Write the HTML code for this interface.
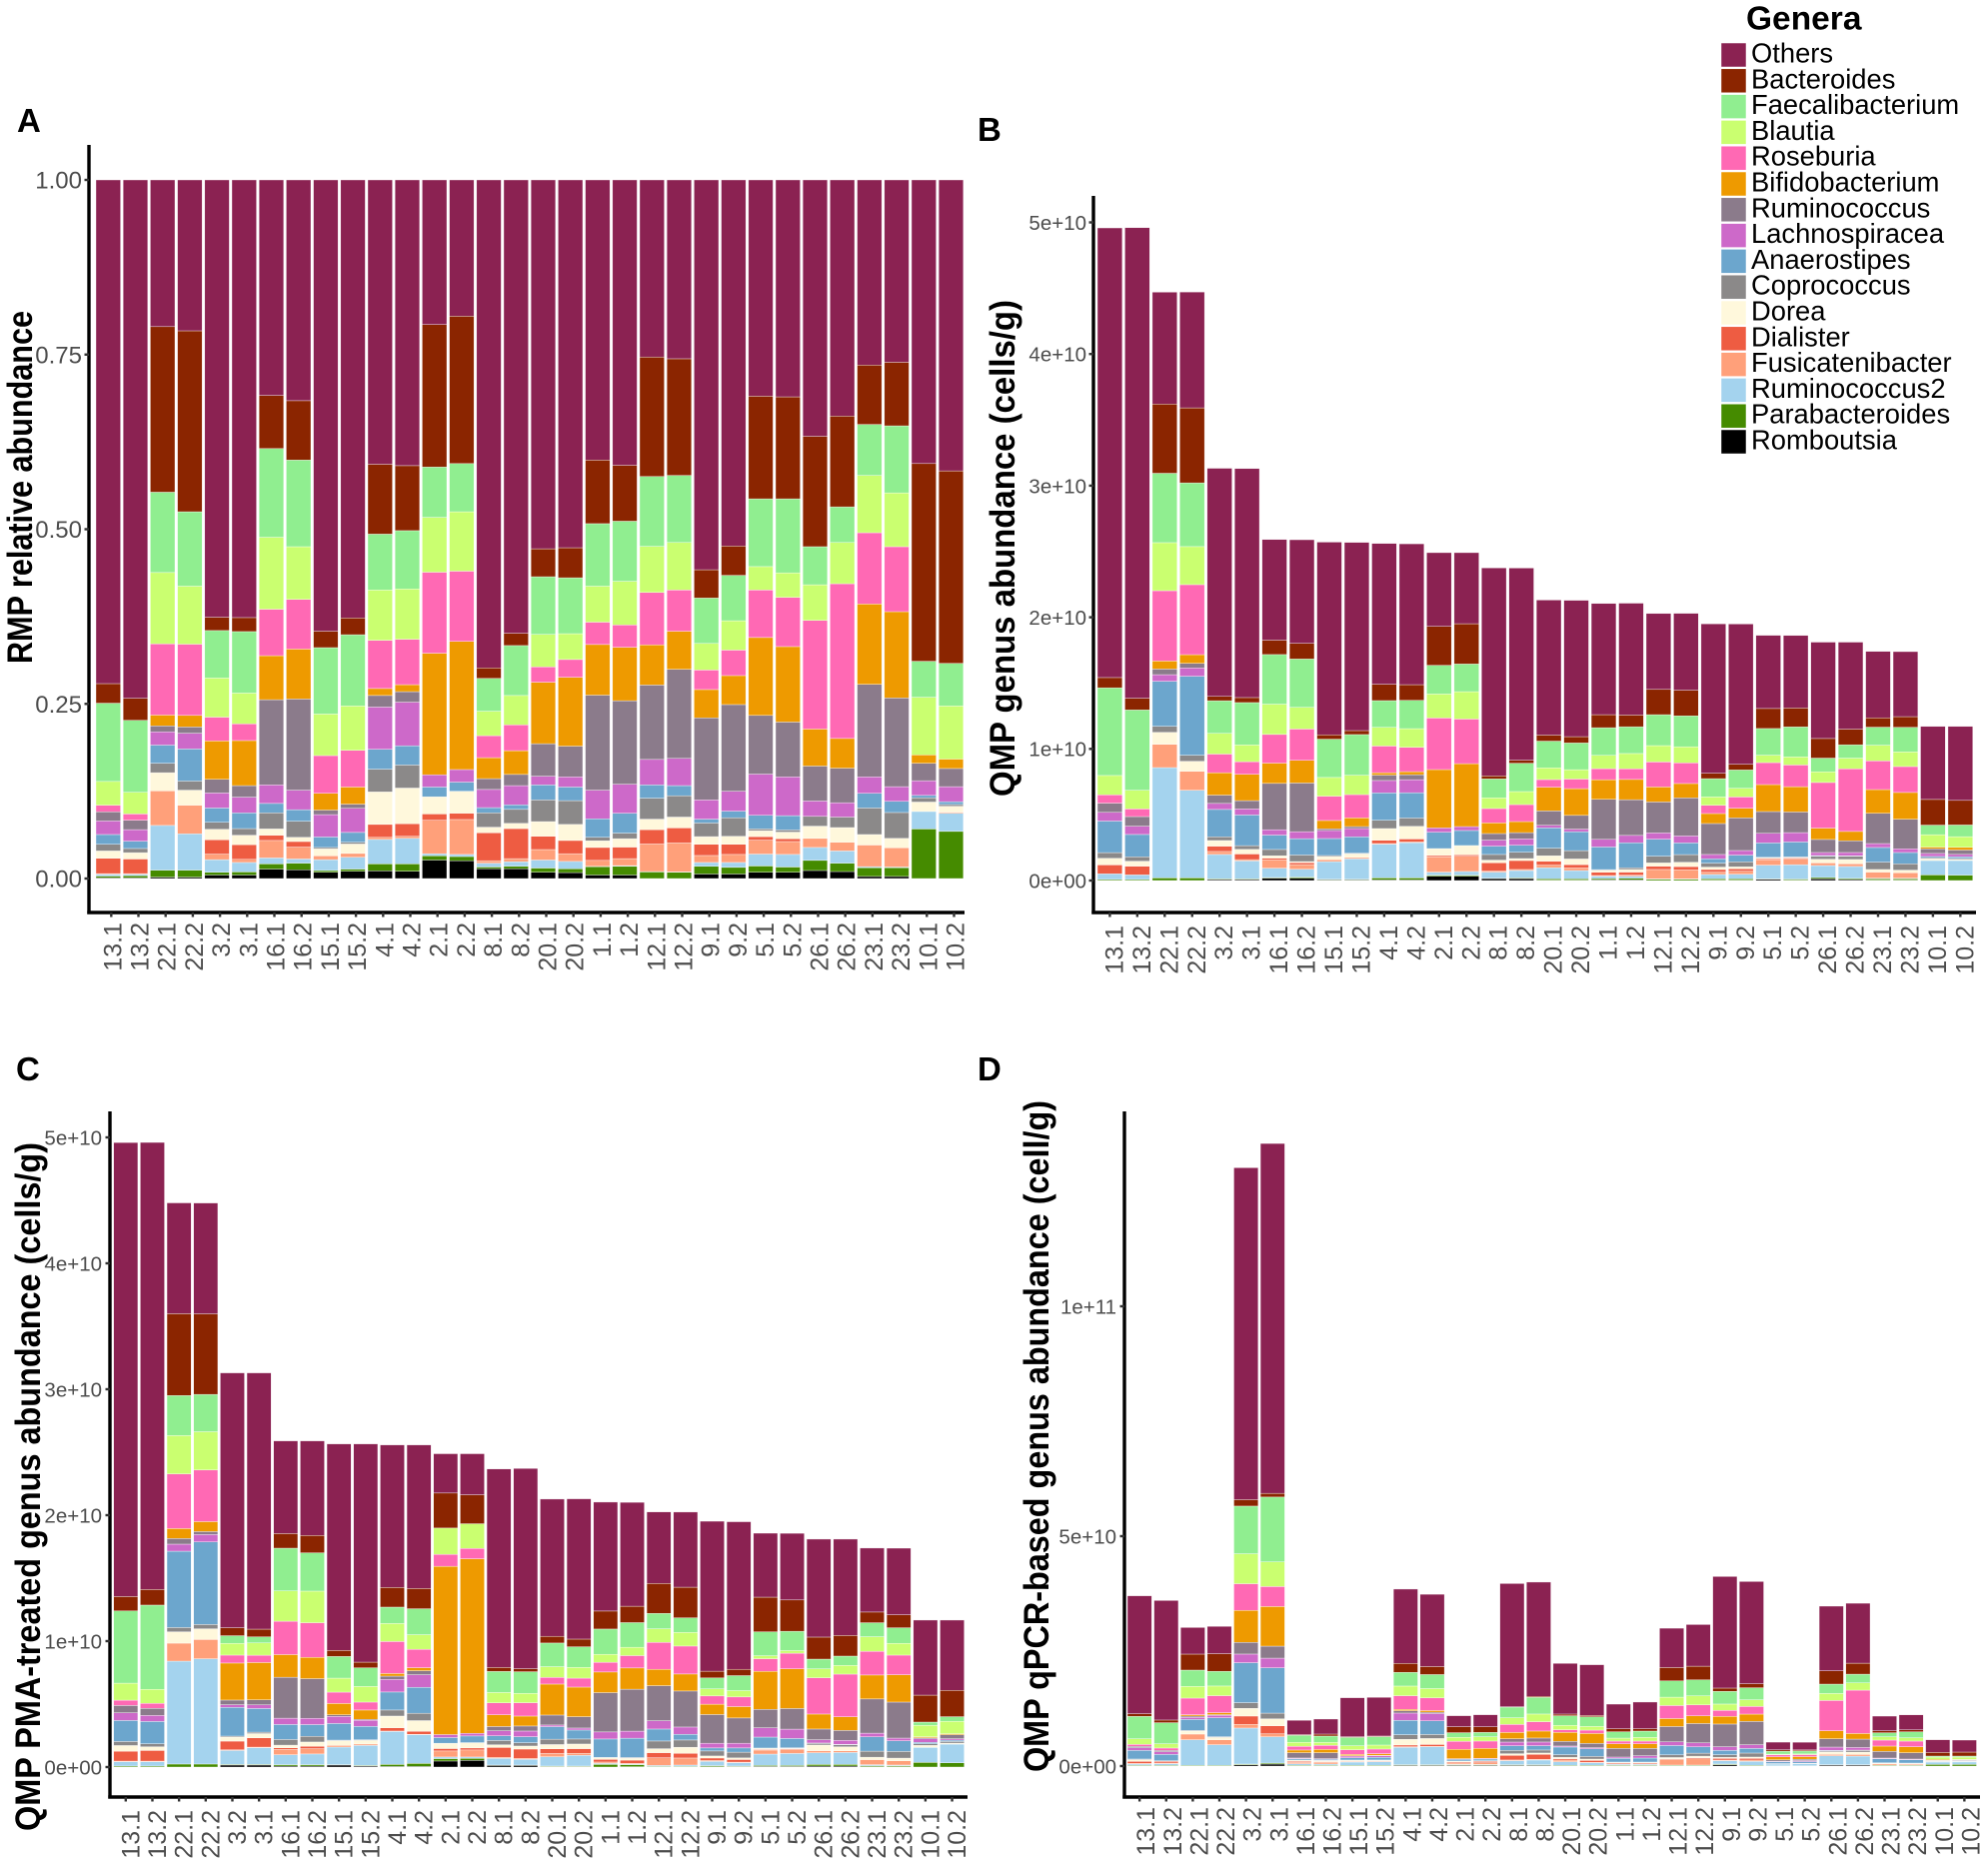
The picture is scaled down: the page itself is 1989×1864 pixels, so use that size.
<!DOCTYPE html>
<html lang="en">
<head>
<meta charset="utf-8">
<title>Genus abundance stacked bar charts</title>
<style>
html,body{margin:0;padding:0;background:#fff}
svg{display:block}
text{font-family:"Liberation Sans",Arial,sans-serif}
</style>
</head>
<body>
<svg id="figure" xmlns="http://www.w3.org/2000/svg" width="1989" height="1864" viewBox="0 0 1989 1864"></svg>
<script>
const samples = ["13.1","13.2","22.1","22.2","3.2","3.1","16.1","16.2","15.1","15.2","4.1","4.2","2.1","2.2","8.1","8.2","20.1","20.2","1.1","1.2","12.1","12.2","9.1","9.2","5.1","5.2","26.1","26.2","23.1","23.2","10.1","10.2"];
/* stack order, bottom to top */
const genera = ["Romboutsia","Parabacteroides","Ruminococcus2","Fusicatenibacter","Dialister","Dorea","Coprococcus","Anaerostipes","Lachnospiracea","Ruminococcus","Bifidobacterium","Roseburia","Blautia","Faecalibacterium","Bacteroides","Others"];

/* Panel A: relative abundance, percent */
const A_13_1=[.1,.25,.25,.1,2.2,1.05,.95,1.4,1.95,1.3,0,.95,3.4,11.2,2.8,72.1];
const A_13_2=[.1,.3,.2,.1,2.1,.9,.6,1.05,1.65,1.35,0,.9,3.1,10.3,3.15,74.2];
const A_22_1=[.2,1,6.4,4.95,0,2.6,1.35,2.6,1.9,.85,1.55,10.2,10.2,11.5,23.7,21];
const A_22_2=[.2,1,5.2,4.1,0,2.15,1.3,4.6,2.25,.9,1.65,10.2,8.3,10.65,25.9,21.6];
const A_3_2=[.5,.4,1.8,.8,2.05,1.5,1,2.05,2.15,1.95,5.5,3.4,5.6,6.8,1.9,62.6];
const A_3_1=[.5,.45,1.35,.45,2.1,1.35,.95,2.25,2.25,1.65,6.45,2.4,4.4,8.8,2,62.65];
const A_16_1=[1.35,.75,.85,2.5,.75,.9,2.3,1.35,2.65,12.2,6.3,6.65,10.3,12.7,7.6,30.85];
const A_16_2=[1.25,.95,.6,1.7,.8,.6,2.3,1.65,2.8,13.05,7.15,7.1,7.55,12.4,8.5,31.6];
const A_15_1=[.9,.25,1.55,.55,0,1,.2,1.5,3.2,.65,2.4,5.4,5.95,9.5,2.35,64.6];
const A_15_2=[1.05,.3,1.7,.55,0,1.35,.25,1.4,3.45,.6,2.45,5.25,6.35,10.2,2.4,62.7];
const A_4_1=[1.1,1,3.5,.3,1.85,4.65,3.25,2.85,6.05,1.65,1,6.9,7.2,8,10,40.7];
const A_4_2=[1.05,1.05,3.65,.3,1.8,5.1,3.3,2.75,6.25,1.5,1,6.5,7.2,8.35,9.3,40.9];
const A_2_1=[2.65,.6,.3,4.8,.9,2.45,0,1.4,1.75,0,17.4,11.6,7.85,7.2,20.4,20.7];
const A_2_2=[2.55,.6,.3,5,.9,3.15,0,1.3,1.8,0,18.35,10.05,8.5,6.9,21.1,19.5];
const A_8_1=[1.4,.25,.55,.35,4,.8,2.05,.75,2.6,1.55,3,3.15,3.5,4.7,1.5,69.85];
const A_8_2=[1.4,.35,.65,.45,4.3,.75,2,.65,2.75,1.6,3.4,3.7,4.2,7.15,1.75,64.9];
const A_20_1=[.9,.6,1.15,1.5,1.9,2.1,3.1,2.15,1.25,4.65,8.8,2.2,4.65,8.25,4,52.8];
const A_20_2=[.85,.55,1.05,1.1,1.9,2.3,3.4,1.95,1.45,4.4,9.85,2.55,3.7,8,4.3,52.65];
const A_1_1=[.5,1.2,.05,.85,1.85,.95,.5,2.65,4.1,13.6,7.25,3.2,5.15,8.95,9.1,40.1];
const A_1_2=[.5,1.25,.1,1,1.65,1.2,.8,2.85,4.15,11.95,7.65,3.2,6.25,8.6,8,40.85];
const A_12_1=[0,.95,.05,3.95,2.05,1.5,3,1.9,3.65,10.65,5.75,7.5,6.6,10,17.1,25.35];
const A_12_2=[0,.9,.05,4.15,2.15,1.55,3.05,1.45,3.9,12.75,5.45,5.9,6.8,9.6,16.7,25.6];
const A_9_1=[.65,1.1,.55,1,1.6,1.1,1.95,.55,2.75,11.75,4.05,2.8,3.8,6.5,4.05,55.8];
const A_9_2=[.65,.95,.7,1.15,1.45,1.15,2.65,.95,2.85,12.4,4.15,3.65,4.2,6.5,4.2,52.4];
const A_5_1=[.9,.9,1.7,2,.5,.85,.25,1.95,5.9,8.4,11.15,6.8,3.35,9.7,14.7,30.95];
const A_5_2=[.9,.75,1.8,1.85,.4,.95,.3,2.05,5.55,7.85,10.8,7.05,3.5,10.6,14.6,31.05];
const A_26_1=[1.15,1.45,1.85,1.3,0,1.75,1.4,0,2.2,5,5.3,15.55,5.1,5.45,15.8,36.7];
const A_26_2=[1,1.2,1.75,1.25,0,2.1,1.5,0,2.05,4.95,4.25,22.15,5.9,5.1,13,33.8];
const A_23_1=[.3,1.25,.15,3.1,0,1.5,3.8,2.1,2.35,13.25,11.5,10.2,8.2,7.3,8.5,26.5];
const A_23_2=[.3,1.25,.1,2.75,0,1.35,3.7,1.6,2.1,12.7,12.35,9.3,7.7,9.6,9.1,26.1];
const A_10_1=[0,7.1,2.5,0,0,1.35,.6,.35,2.1,2.5,1.2,0,8.25,5.15,28.3,40.6];
const A_10_2=[0,6.75,2.6,.15,0,.85,.25,.4,2.15,2.6,1.35,0,7.6,6.1,27.55,41.65];

/* Panel B: QMP, 1e9 cells/g */
const B_13_1=[0,.08,.43,0,.68,.5,.43,2.4,.66,.7,0,.63,1.47,6.66,.78,34.16];
const B_13_2=[0,.08,.35,0,.66,.38,.33,1.7,.63,.73,0,.58,1.42,6.1,.89,35.75];
const B_22_1=[0,.2,8.38,1.77,0,.91,.46,3.42,.5,.43,.61,5.34,3.65,5.27,5.26,8.5];
const B_22_2=[0,.2,6.66,1.44,0,.76,.46,6,.63,.35,.66,5.32,2.89,4.84,5.7,8.8];
const B_3_2=[.08,.05,1.85,.23,.4,.43,.28,2.08,.46,.63,1.7,1.42,1.57,2.48,.33,17.33];
const B_3_1=[.08,.05,1.36,.1,.43,.35,.28,2.33,.46,.63,2,.96,1.27,3.22,.38,17.4];
const B_16_1=[.18,.05,.71,.63,.13,.18,.48,1.09,.41,3.52,1.54,2.18,2.3,3.77,1.09,7.65];
const B_16_2=[.18,.08,.6,.35,.15,.08,.5,1.24,.53,3.7,1.72,2.38,1.65,3.67,1.19,7.87];
const B_15_1=[.05,.05,1.34,.15,0,.23,.08,1.29,.61,.13,.63,1.85,1.42,2.91,.33,14.64];
const B_15_2=[.05,.05,1.55,.1,0,.28,.05,1.24,.63,.15,.66,1.77,1.47,3.09,.3,14.3];
const B_4_1=[.05,.15,2.56,.05,.25,.89,.63,2.08,.94,.41,.18,2.03,1.42,2.03,1.24,10.7];
const B_4_2=[.05,.15,2.68,.05,.23,.96,.63,1.92,.99,.38,.23,1.85,1.42,2.15,1.19,10.7];
const B_2_1=[.33,.08,.23,1.16,.1,.53,0,1.24,.33,0,4.43,3.92,1.82,2.18,2.96,5.6];
const B_2_2=[.33,.08,.28,1.16,.1,.71,0,1.14,.3,0,4.78,3.39,2.08,2.1,3.06,5.4];
const B_8_1=[.15,.03,.46,.08,.63,.2,.43,.63,.46,.5,.81,1.09,.81,1.44,.23,15.8];
const B_8_2=[.15,.05,.56,.08,.68,.15,.48,.53,.48,.48,.84,1.29,.99,2.15,.23,14.6];
const B_20_1=[.03,.1,.84,.2,.3,.41,.58,1.54,.2,1.09,1.8,.58,.89,2.03,.46,10.26];
const B_20_2=[.03,.1,.63,.2,.25,.43,.63,1.44,.2,1.04,2.03,.73,.71,2.03,.48,10.36];
const B_1_1=[.05,.1,.18,.05,.25,.15,.05,1.72,.58,3.04,1.49,.84,1.01,2.1,.99,8.45];
const B_1_2=[.05,.13,.15,.08,.23,.2,.13,1.9,.56,2.71,1.54,.81,1.16,2.03,.89,8.5];
const B_12_1=[0,.1,.03,.71,.25,.25,.51,1.29,.48,2.35,1.14,1.9,1.24,2.35,1.92,5.77];
const B_12_2=[0,.1,.03,.68,.25,.33,.58,.89,.53,2.89,1.09,1.57,1.22,2.35,1.95,5.84];
const B_9_1=[.03,.1,.33,.18,.2,.18,.3,.33,.33,2.35,.76,.63,.63,1.39,.41,11.35];
const B_9_2=[.03,.1,.35,.23,.18,.15,.38,.51,.35,2.48,.73,.86,.66,1.39,.43,10.66];
const B_5_1=[.1,.03,1.04,.41,.08,.08,.03,1.09,.73,1.65,2.05,1.67,.56,2.03,1.52,5.56];
const B_5_2=[.03,.08,1.09,.43,.08,.05,.03,1.14,.71,1.57,1.92,1.65,.61,2.28,1.44,5.51];
const B_26_1=[.13,.1,.91,.2,0,.28,.23,.05,.23,.99,.86,3.47,.81,1.04,1.49,7.32];
const B_26_2=[.08,.08,.91,.2,0,.33,.25,.03,.25,.89,.71,4.76,.81,1.01,1.19,6.61];
const B_23_1=[.03,.1,.05,.46,0,.2,.56,1.11,.3,2.3,1.8,2.18,1.19,1.37,.71,5.05];
const B_23_2=[.03,.1,.05,.41,0,.2,.48,.86,.28,2.25,2.03,1.97,1.11,1.87,.81,4.94];
const B_10_1=[0,.43,1.09,0,0,.13,.08,.1,.23,.35,.13,0,.94,.73,1.95,5.55];
const B_10_2=[0,.41,1.11,0,0,.08,.08,.13,.18,.33,.2,0,.81,.89,1.87,5.62];

/* Panel C: QMP PMA-treated, 1e9 cells/g */
const C_13_1=[0,.08,.34,.05,.79,.45,.32,1.67,.61,.58,0,.42,1.35,5.74,1.14,36.05];
const C_13_2=[0,.08,.34,.05,.85,.29,.24,1.77,.48,.56,0,.4,1.11,6.69,1.24,35.5];
const C_22_1=[0,.24,8.17,1.43,0,.9,.34,6.06,.56,.45,.79,4.34,3.04,3.18,6.5,8.8];
const C_22_2=[0,.24,8.36,1.53,0,.85,.34,6.56,.58,.24,.79,4.1,3.04,2.96,6.4,8.8];
const C_3_2=[.16,.05,1.11,.05,.69,.32,.08,2.28,.21,.37,2.94,.63,.93,.61,.63,20.24];
const C_3_1=[.16,.05,1.32,.05,.74,.34,.11,1.88,.29,.4,2.96,.58,.98,.48,.61,20.35];
const C_16_1=[.08,.11,.79,.42,.13,.21,.45,1.19,.5,3.25,1.8,2.65,2.41,3.39,1.16,7.36];
const C_16_2=[.08,.11,.85,.42,.19,.34,.45,.93,.5,3.15,1.69,2.75,2.51,3.04,1.38,7.51];
const C_15_1=[.16,.03,1.4,.13,0,.37,.05,1.32,.56,.13,.9,.9,1.11,1.72,.48,16.4];
const C_15_2=[.08,.05,1.59,.11,0,.29,.05,1.06,.48,.08,.74,.63,1.24,1.48,.45,17.33];
const C_4_1=[.05,.16,2.62,.03,.26,.93,.48,1.43,1,.26,.21,2.54,1.43,1.3,1.56,11.32];
const C_4_2=[.05,.24,2.28,.03,.24,.85,.58,2.06,1,.32,.24,1.46,1.16,2.06,1.61,11.4];
const C_2_1=[.48,.19,.13,.48,.19,.42,0,.45,.24,0,13.36,.95,2.09,0,2.78,3.12];
const C_2_2=[.53,.16,.11,.56,.16,.42,0,.53,.21,0,13.86,.82,1.96,0,2.3,3.26];
const C_8_1=[.13,.03,.53,.08,.79,.21,.34,.37,.4,.34,.93,.95,.82,1.67,.32,15.76];
const C_8_2=[.13,.03,.45,.08,.74,.24,.26,.48,.45,.4,.79,1.06,.74,1.72,.24,15.9];
const C_20_1=[.03,.05,.74,.26,.37,.34,.42,1,.13,.79,2.46,.53,.85,1.88,.53,10.9];
const C_20_2=[.03,.05,.85,.16,.37,.37,.4,.71,.16,.9,2.35,.71,.85,1.64,.61,11.14];
const C_1_1=[0,.21,.08,.11,.21,.13,.03,1.46,.56,3.12,1.64,.77,.63,2.01,1.43,8.65];
const C_1_2=[.03,.16,.05,.05,.26,.16,.05,1.53,.56,3.33,1.69,.98,.66,1.96,1.3,8.25];
const C_12_1=[0,.05,.08,.61,.4,.32,.61,.95,.66,2.78,1.3,2.14,1.08,1.22,2.38,5.68];
const C_12_2=[0,.05,.11,.56,.37,.48,.58,.45,.58,2.86,1.35,2.22,1.08,1.16,2.43,5.97];
const C_9_1=[.03,.08,.34,.08,.19,.16,.4,.24,.37,2.28,.82,.66,.56,.87,.53,11.91];
const C_9_2=[.03,.05,.26,.05,.21,.13,.45,.34,.37,2.01,.9,.77,.5,1.19,.5,11.72];
const C_5_1=[.05,.08,.9,.32,.05,.08,.03,.87,.74,1.46,3.02,1,.24,1.9,2.75,5.08];
const C_5_2=[.05,.08,.95,.32,.05,.05,.03,.74,.74,1.64,3.15,1.24,.21,1.53,2.49,5.29];
const C_26_1=[.08,.13,.93,.16,0,.45,.13,.03,.26,.85,1.19,2.88,.71,.77,1.75,7.78];
const C_26_2=[.08,.13,.95,.13,0,.32,.16,.03,.32,.79,1.08,3.39,.69,.74,1.64,7.65];
const C_23_1=[.03,.08,.08,.4,0,.19,.48,1.14,.29,2.72,1.9,1.88,1.16,1.11,.85,5.08];
const C_23_2=[.03,.08,.05,.34,0,.21,.53,.85,.21,2.86,2.17,1.56,.93,1.24,1.03,5.29];
const C_10_1=[0,.37,1.19,0,0,.16,.13,.11,.29,.08,.08,0,.9,.26,2.14,5.96];
const C_10_2=[0,.34,1.48,0,0,.08,.13,.11,.11,.32,.08,0,.98,.37,2.09,5.58];

/* Panel D: QMP qPCR-based, 1e9 cells/g */
const D_13_1=[0,.15,.29,.15,.43,.36,.15,1.88,.58,.29,0,.43,1.23,4.86,.58,25.65];
const D_13_2=[0,.15,.36,.15,.36,.07,.07,1.38,.58,.29,0,.51,.94,4.57,.58,26];
const D_22_1=[0,.15,5.58,1.23,0,.65,.15,2.39,.43,.29,.29,3.62,2.54,3.55,3.48,5.79];
const D_22_2=[0,.15,4.49,1.09,0,.51,.15,4.13,.51,.15,.43,3.7,2.1,3.19,3.84,5.94];
const D_3_2=[.29,.15,7.83,.8,1.81,1.67,1.23,8.7,1.88,2.54,6.96,5.8,6.52,10.36,1.4,72.2];
const D_3_1=[.43,.22,5.72,.65,1.74,1.52,1.23,9.86,2.1,2.61,8.62,4.35,5.36,14.1,.8,76.1];
const D_16_1=[0,.15,.36,.29,.22,.22,.07,.29,.15,1.16,.58,.8,.87,1.52,.15,3.12];
const D_16_2=[0,.15,.29,.36,.15,.22,.07,.22,.15,1.3,.72,.87,.65,1.38,.43,3.26];
const D_15_1=[0,.15,.72,.15,0,.22,.07,.51,.36,.07,.29,1.01,.87,1.81,.15,8.48];
const D_15_2=[0,.15,.8,.15,0,.15,.07,.58,.36,.07,.36,1.01,.87,1.81,.15,8.41];
const D_4_1=[.15,.15,3.77,.15,.36,1.23,1.01,3.12,1.59,.51,.29,2.97,2.1,2.97,1.96,16.16];
const D_4_2=[.15,.15,3.9,.07,.43,1.3,.87,2.97,1.59,.29,.36,2.75,2.03,3.04,1.74,15.72];
const D_2_1=[.15,.15,.07,.29,.22,.22,0,.36,.15,0,2.03,1.74,.87,1.01,1.3,2.39];
const D_2_2=[.15,.15,.07,.36,.29,.15,0,.36,.15,0,2.17,1.59,.94,.94,1.23,2.61];
const D_8_1=[.15,.15,.87,.15,1.01,.36,.72,1.01,.8,.72,1.38,1.74,1.45,2.32,.07,26.8];
const D_8_2=[.15,.15,1.01,.15,1.09,.29,.65,.94,.8,.87,1.52,2.03,1.67,3.62,.22,24.85];
const D_20_1=[0,.15,.8,.36,.29,.29,.58,1.67,.22,1.01,1.96,.58,.94,2.1,.36,11.02];
const D_20_2=[0,.15,.58,.07,.43,.29,.58,1.67,.22,.94,2.17,.72,.8,2.1,.29,11.03];
const D_1_1=[0,.15,.22,.07,.22,.14,.07,.8,.29,1.88,1.01,.58,.65,1.38,.65,5.36];
const D_1_2=[0,.15,.22,.07,.22,.14,.07,.87,.51,1.59,1.01,.58,.8,1.38,.51,5.8];
const D_12_1=[0,.15,.07,1.2,.15,.29,.58,2.03,.8,3.33,1.74,2.83,1.81,3.55,2.9,8.55];
const D_12_2=[0,.15,.07,1.35,.22,.36,.65,1.38,.87,4.2,1.67,2.39,1.96,3.48,2.97,9.06];
const D_9_1=[.29,.15,.72,.15,.36,.22,.58,.94,.8,4.93,1.67,1.3,1.38,2.75,.72,24.27];
const D_9_2=[0,.15,.87,.29,.36,.29,.87,1.01,.8,5.07,1.59,1.67,1.45,2.61,.87,22.24];
const D_5_1=[0,.07,.36,.05,0,.03,.03,.38,.15,.29,.65,.43,.15,.65,.29,1.67];
const D_5_2=[0,.07,.43,.05,0,.03,.03,.36,.22,.29,.58,.43,.15,.65,.22,1.67];
const D_26_1=[.22,.07,1.96,.29,0,.51,.22,.14,.72,1.81,1.74,6.59,1.52,2.03,2.9,14.06];
const D_26_2=[.22,.07,1.88,.36,0,.51,.36,.07,.58,1.81,1.23,9.42,1.59,1.88,2.39,13.04];
const D_23_1=[0,.15,.07,.29,0,.14,.07,.87,.15,1.45,1.16,1.3,.72,.87,.43,3.19];
const D_23_2=[0,.15,.07,.22,0,.14,.07,.72,.15,1.38,1.3,1.23,.72,1.3,.43,3.26];
const D_10_1=[0,.36,.51,0,0,.07,.07,.07,.07,.1,.2,0,.5,.22,.8,2.75];
const D_10_2=[0,.36,.54,0,0,.07,.07,.07,.1,.14,.1,0,.5,.22,.87,2.61];

const rowsA=[A_13_1,A_13_2,A_22_1,A_22_2,A_3_2,A_3_1,A_16_1,A_16_2,A_15_1,A_15_2,A_4_1,A_4_2,A_2_1,A_2_2,A_8_1,A_8_2,A_20_1,A_20_2,A_1_1,A_1_2,A_12_1,A_12_2,A_9_1,A_9_2,A_5_1,A_5_2,A_26_1,A_26_2,A_23_1,A_23_2,A_10_1,A_10_2];
const rowsB=[B_13_1,B_13_2,B_22_1,B_22_2,B_3_2,B_3_1,B_16_1,B_16_2,B_15_1,B_15_2,B_4_1,B_4_2,B_2_1,B_2_2,B_8_1,B_8_2,B_20_1,B_20_2,B_1_1,B_1_2,B_12_1,B_12_2,B_9_1,B_9_2,B_5_1,B_5_2,B_26_1,B_26_2,B_23_1,B_23_2,B_10_1,B_10_2];
const rowsC=[C_13_1,C_13_2,C_22_1,C_22_2,C_3_2,C_3_1,C_16_1,C_16_2,C_15_1,C_15_2,C_4_1,C_4_2,C_2_1,C_2_2,C_8_1,C_8_2,C_20_1,C_20_2,C_1_1,C_1_2,C_12_1,C_12_2,C_9_1,C_9_2,C_5_1,C_5_2,C_26_1,C_26_2,C_23_1,C_23_2,C_10_1,C_10_2];
const rowsD=[D_13_1,D_13_2,D_22_1,D_22_2,D_3_2,D_3_1,D_16_1,D_16_2,D_15_1,D_15_2,D_4_1,D_4_2,D_2_1,D_2_2,D_8_1,D_8_2,D_20_1,D_20_2,D_1_1,D_1_2,D_12_1,D_12_2,D_9_1,D_9_2,D_5_1,D_5_2,D_26_1,D_26_2,D_23_1,D_23_2,D_10_1,D_10_2];

const ticksA=[0,25,50,75,100];
const tickLabelsA=["0.00","0.25","0.50","0.75","1.00"];
const ticksBC=[0,10,20,30,40,50];
const tickLabelsBC=["0e+00","1e+10","2e+10","3e+10","4e+10","5e+10"];
const ticksD=[0,50,100];
const tickLabelsD=["0e+00","5e+10","1e+11"];

const palette={Others:"#8B2252",Bacteroides:"#8B2500",Faecalibacterium:"#90EE90",Blautia:"#CAFF70",Roseburia:"#FF69B4",Bifidobacterium:"#EE9A00",Ruminococcus:"#8B7B8B",Lachnospiracea:"#CD69C9",Anaerostipes:"#6CA6CD",Coprococcus:"#8B8989",Dorea:"#FFF8DC",Dialister:"#EE5C42",Fusicatenibacter:"#FFA07A",Ruminococcus2:"#A4D3EE",Parabacteroides:"#458B00",Romboutsia:"#000000"};

const panels=[
 {id:"a",letter:"A",letterX:17,letterY:132,rows:rowsA,ticks:ticksA,labels:tickLabelsA,axisX:89,axisTop:145,axisY:913,axisRight:965,y0:879,pxPerUnit:6.99,barStart:96,step:27.2,barW:24.6,tickShift:3,labelShift:13,labelTop:923,yLabelSize:24,yLabelRight:82,title:"RMP relative abundance",titleX:32,titleStart:664,titleEnd:311},
 {id:"b",letter:"B",letterX:978,letterY:141,rows:rowsB,ticks:ticksBC,labels:tickLabelsBC,axisX:1094,axisTop:196,axisY:913,axisRight:1977,y0:881,pxPerUnit:13.17,barStart:1098,step:27.45,barW:24.8,tickShift:0,labelShift:13,labelTop:926,yLabelSize:20.5,yLabelRight:1087,title:"QMP genus abundance (cells/g)",titleX:1015,titleStart:797,titleEnd:300},
 {id:"c",letter:"C",letterX:16,letterY:1081,rows:rowsC,ticks:ticksBC,labels:tickLabelsBC,axisX:110,axisTop:1112,axisY:1798,axisRight:968,y0:1768,pxPerUnit:12.6,barStart:113.7,step:26.67,barW:24.2,tickShift:0,labelShift:13.5,labelTop:1811,yLabelSize:20.5,yLabelRight:102,title:"QMP PMA-treated genus abundance (cells/g)",titleX:40,titleStart:1832,titleEnd:1143},
 {id:"d",letter:"D",letterX:978,letterY:1081,rows:rowsD,ticks:ticksD,labels:tickLabelsD,axisX:1125,axisTop:1112,axisY:1798,axisRight:1981,y0:1767,pxPerUnit:4.6,barStart:1128,step:26.62,barW:24.3,tickShift:0,labelShift:15,labelTop:1808,yLabelSize:20.5,yLabelRight:1117,title:"QMP qPCR-based genus abundance (cell/g)",titleX:1049,titleStart:1773,titleEnd:1101}
];

const NS="http://www.w3.org/2000/svg";
const svg=document.getElementById("figure");
function make(parent,tag,attrs,text){
  const el=document.createElementNS(NS,tag);
  for(const k in attrs){el.setAttribute(k,attrs[k]);}
  if(text!==undefined){el.textContent=text;}
  parent.appendChild(el);
  return el;
}
function slug(s){return String(s).toLowerCase().replace(/[^a-z0-9]+/g,"-");}

function drawPanel(p){
  const xBand=function(i){return p.barStart+i*p.step;};
  const xCenter=function(i){return xBand(i)+p.barW/2;};
  const yScale=function(v){return p.y0-v*p.pxPerUnit;};

  const g=make(svg,"g",{});
  
  

  const letter=make(g,"text",{x:p.letterX,y:p.letterY,"font-size":33,"font-weight":"bold",fill:"#000"},p.letter);
  
  

  p.rows.forEach(function(row,i){
    let cum=0;
    row.forEach(function(v,k){
      if(v<=0){return;}
      const top=yScale(cum+v);
      const bottom=yScale(cum);
      cum+=v;
      const seg=make(g,"rect",{x:xBand(i).toFixed(2),y:top.toFixed(2),width:p.barW,height:(bottom-top).toFixed(2),fill:palette[genera[k]],stroke:"#fff","stroke-width":0.5,"stroke-opacity":0.75});
      
      
    });
  });

  const yAxis=make(g,"line",{x1:p.axisX,x2:p.axisX,y1:p.axisTop,y2:p.axisY+1.5,stroke:"#000","stroke-width":3.4});
  
  
  const xAxis=make(g,"line",{x1:p.axisX-1.7,x2:p.axisRight,y1:p.axisY,y2:p.axisY,stroke:"#000","stroke-width":3.4});
  
  

  p.ticks.forEach(function(t,i){
    const y=yScale(t);
    const mark=make(g,"line",{x1:p.axisX-4.5,x2:p.axisX,y1:y,y2:y,stroke:"#333","stroke-width":2.4});
    
    
    const lab=make(g,"text",{x:p.yLabelRight,y:y+p.yLabelSize*0.36,"font-size":p.yLabelSize,fill:"#4d4d4d","text-anchor":"end"},p.labels[i]);
    
    
  });

  samples.forEach(function(s,i){
    const cx=xCenter(i);
    const mark=make(g,"line",{x1:cx+p.tickShift,x2:cx+p.tickShift,y1:p.axisY,y2:p.axisY+4.5,stroke:"#333","stroke-width":2.4});
    
    
    const bx=cx+p.labelShift;
    const lab=make(g,"text",{x:0,y:0,transform:"translate("+bx.toFixed(2)+","+p.labelTop+") rotate(-90)","font-size":25,fill:"#4d4d4d","text-anchor":"end"},s);
    
    
  });

  const title=make(g,"text",{x:0,y:0,transform:"translate("+p.titleX+","+p.titleStart+") rotate(-90)","font-size":35,"font-weight":"bold",fill:"#000",textLength:p.titleStart-p.titleEnd,lengthAdjust:"spacingAndGlyphs"},p.title);
  
  
}
panels.forEach(drawPanel);

const legend=make(svg,"g",{});


const legendTitle=make(legend,"text",{x:1747,y:29.5,"font-size":33.5,"font-weight":"bold",fill:"#000"},"Genera");


genera.slice().reverse().forEach(function(name,i){
  const top=43+i*25.8;
  const swatch=make(legend,"rect",{x:1722,y:top,width:25,height:24,fill:palette[name],stroke:"#fff","stroke-width":0.5});
  
  
  const label=make(legend,"text",{x:1752,y:top+19.5,"font-size":27.35,fill:"#000"},name);
  
  
});
</script>
</body>
</html>
